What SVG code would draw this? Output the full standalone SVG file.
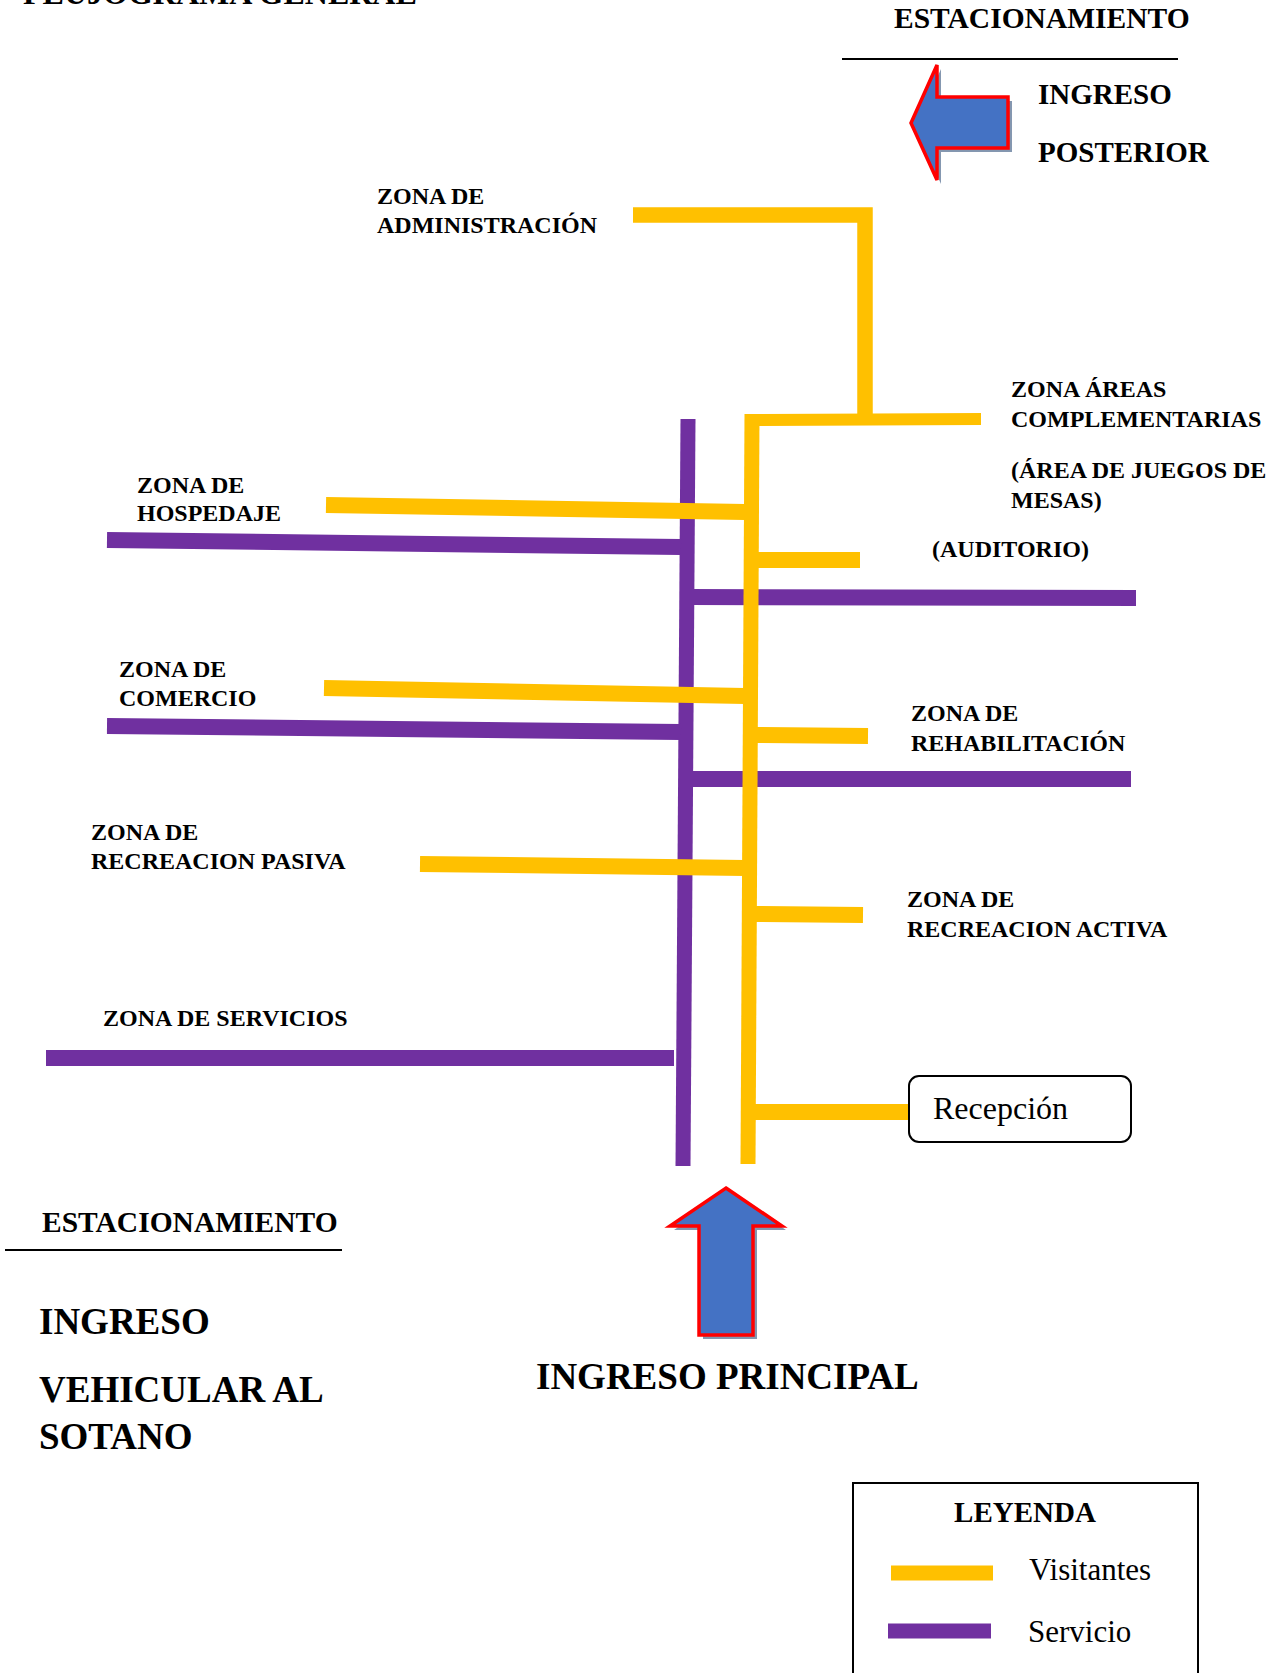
<svg xmlns="http://www.w3.org/2000/svg" width="1283" height="1673" viewBox="0 0 1283 1673">
<style>
.t{font-family:"Liberation Serif","Times New Roman",serif;font-weight:bold;fill:#000}
.lb{font-size:24px}
.r{font-family:"Liberation Serif","Times New Roman",serif;font-weight:normal;fill:#000}
.y{stroke:#FFC000;fill:none;stroke-linecap:butt;stroke-linejoin:miter}
.p{stroke:#7030A0;fill:none;stroke-linecap:butt}
.arr{fill:#4472C4;stroke:#FF0000;stroke-width:3.5;stroke-linejoin:miter}
.sh{fill:#8497B0}
</style>
<rect width="1283" height="1673" fill="#fff"/>

<g id="title"><text class="t" x="23" y="4" font-size="32">FLUJOGRAMA GENERAL</text></g>

<g id="estacionamiento-top">
<text class="t" x="894" y="28" font-size="29.5">ESTACIONAMIENTO</text>
<line x1="842" y1="59" x2="1178" y2="59" stroke="#000" stroke-width="2"/>
</g>

<g id="ingreso-posterior">
<polygon class="sh" points="915,127 941,69 941,101 1012,101 1012,152 941,152 941,184"/>
<polygon class="arr" points="911,123 937,65 937,97 1008,97 1008,148 937,148 937,180"/>
<text class="t" x="1038" y="104" font-size="29">INGRESO</text>
<text class="t" x="1038" y="162" font-size="29">POSTERIOR</text>
</g>

<g id="connectors">
<g id="servicio-lines" class="p">
<line x1="688" y1="419" x2="683" y2="1166" stroke-width="15"/>
<line x1="107" y1="540" x2="681" y2="547" stroke-width="16"/>
<line x1="690" y1="597" x2="1136" y2="598" stroke-width="16"/>
<line x1="107" y1="726" x2="681" y2="732" stroke-width="16"/>
<line x1="690" y1="779" x2="1131" y2="779" stroke-width="16"/>
<line x1="46" y1="1058" x2="674" y2="1058" stroke-width="16"/>
</g>
<g id="visitante-lines" class="y">
<polyline points="633,215 865,215 865,421" stroke-width="15.5"/>
<line x1="746" y1="420" x2="981" y2="419" stroke-width="12"/>
<line x1="752" y1="414" x2="748" y2="1164" stroke-width="15"/>
<line x1="326" y1="505" x2="745" y2="512" stroke-width="16"/>
<line x1="755" y1="560" x2="860" y2="560" stroke-width="16"/>
<line x1="324" y1="688" x2="745" y2="696" stroke-width="16"/>
<line x1="755" y1="735" x2="868" y2="736" stroke-width="16"/>
<line x1="420" y1="864" x2="745" y2="868" stroke-width="16"/>
<line x1="754" y1="914" x2="863" y2="915" stroke-width="16"/>
<line x1="752" y1="1112" x2="909" y2="1112" stroke-width="16"/>
</g>
</g>

<g id="zona-administracion">
<text class="t lb" x="377" y="204">ZONA DE</text>
<text class="t lb" x="377" y="233">ADMINISTRACIÓN</text>
</g>
<g id="zona-complementarias">
<text class="t lb" x="1011" y="397">ZONA ÁREAS</text>
<text class="t lb" x="1011" y="427">COMPLEMENTARIAS</text>
<text class="t lb" x="1011" y="478">(ÁREA DE JUEGOS DE</text>
<text class="t lb" x="1011" y="508">MESAS)</text>
</g>
<g id="auditorio"><text class="t lb" x="932" y="557">(AUDITORIO)</text></g>
<g id="zona-hospedaje">
<text class="t lb" x="137" y="493">ZONA DE</text>
<text class="t lb" x="137" y="521">HOSPEDAJE</text>
</g>
<g id="zona-comercio">
<text class="t lb" x="119" y="677">ZONA DE</text>
<text class="t lb" x="119" y="706">COMERCIO</text>
</g>
<g id="zona-rehabilitacion">
<text class="t lb" x="911" y="721">ZONA DE</text>
<text class="t lb" x="911" y="751">REHABILITACIÓN</text>
</g>
<g id="zona-recreacion-pasiva">
<text class="t lb" x="91" y="840">ZONA DE</text>
<text class="t lb" x="91" y="869">RECREACION PASIVA</text>
</g>
<g id="zona-recreacion-activa">
<text class="t lb" x="907" y="907">ZONA DE</text>
<text class="t lb" x="907" y="937">RECREACION ACTIVA</text>
</g>
<g id="zona-servicios"><text class="t lb" x="103" y="1026">ZONA DE SERVICIOS</text></g>

<g id="recepcion">
<rect x="909" y="1076" width="222" height="66" rx="10" ry="10" fill="#fff" stroke="#000" stroke-width="2"/>
<text class="r" x="933" y="1119" font-size="32">Recepción</text>
</g>

<g id="ingreso-principal">
<polygon class="sh" points="730,1192 786,1230 757,1230 757,1339 703,1339 703,1230 674,1230"/>
<polygon class="arr" points="726,1188 782,1226 753,1226 753,1335 699,1335 699,1226 670,1226"/>
<text class="t" x="536" y="1389" font-size="37">INGRESO PRINCIPAL</text>
</g>

<g id="estacionamiento-bottom">
<text class="t" x="42" y="1232" font-size="29.5">ESTACIONAMIENTO</text>
<line x1="5" y1="1250" x2="342" y2="1250" stroke="#000" stroke-width="2"/>
</g>

<g id="ingreso-vehicular">
<text class="t" x="39" y="1334" font-size="37">INGRESO</text>
<text class="t" x="39" y="1402" font-size="37">VEHICULAR AL</text>
<text class="t" x="39" y="1449" font-size="37">SOTANO</text>
</g>

<g id="leyenda">
<rect x="853" y="1483" width="345" height="220" fill="none" stroke="#000" stroke-width="2"/>
<text class="t" x="1025" y="1522" font-size="29" text-anchor="middle">LEYENDA</text>
<line x1="891" y1="1573" x2="993" y2="1573" stroke="#FFC000" stroke-width="15"/>
<text class="r" x="1029" y="1580" font-size="31">Visitantes</text>
<line x1="888" y1="1631" x2="991" y2="1631" stroke="#7030A0" stroke-width="15"/>
<text class="r" x="1028" y="1642" font-size="31">Servicio</text>
</g>
</svg>
